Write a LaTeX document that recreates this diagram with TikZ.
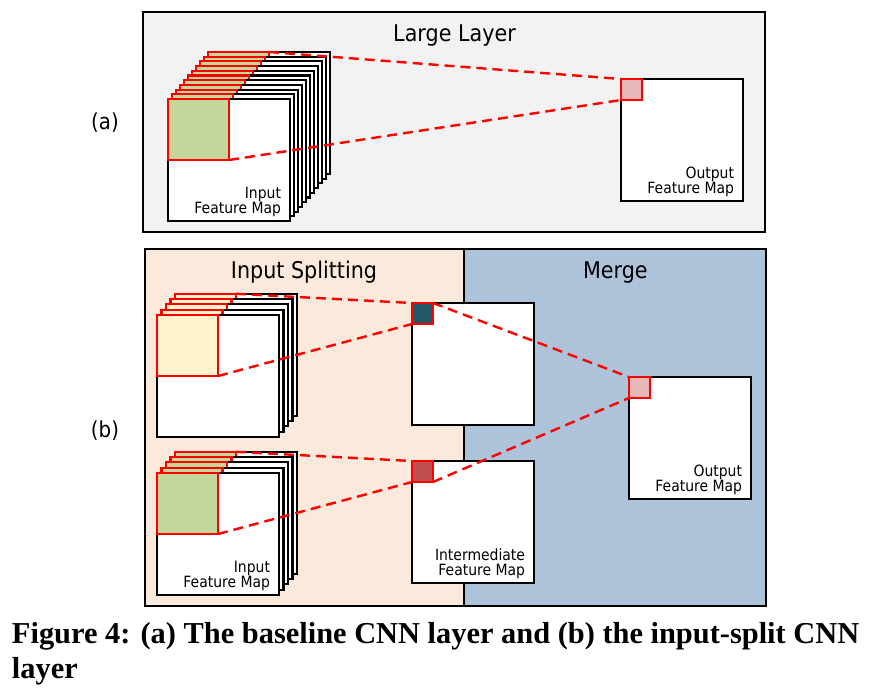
\documentclass[tikz,border=0pt]{standalone}
\usepackage{fontspec}
\setmainfont{DejaVu Sans}[FakeStretch=0.9]
\newfontfamily\capfont{Liberation Serif}
\usepackage{xcolor}
\usetikzlibrary{positioning,calc}

\definecolor{panelgray}{HTML}{F2F2F2}
\definecolor{splitbg}{HTML}{FBE9DB}
\definecolor{mergebg}{HTML}{ADC3DA}
\definecolor{patchgreen}{HTML}{C4D79B}
\definecolor{patchyellow}{HTML}{FFF2CC}
\definecolor{dotteal}{HTML}{215968}
\definecolor{dotred}{HTML}{C0504D}
\definecolor{dotpink}{HTML}{E6B9B8}

\begin{document}
\begin{tikzpicture}[
    x=1pt, y=-1pt,
    every node/.style={inner sep=0pt, outer sep=0pt},
    panel/.style={draw=black, line width=2pt},
    fmap/.style={
      rectangle, draw=black, fill=white, line width=2.1pt,
      minimum width=122pt, minimum height=122pt, anchor=north west
    },
    patch/.style={
      rectangle, draw=red, line width=2.1pt,
      minimum width=61pt, minimum height=61pt, anchor=north west
    },
    dot/.style={
      rectangle, draw=red, line width=2.1pt,
      minimum width=21pt, minimum height=21pt, anchor=north west
    },
    maplabel/.style={font=\fontsize{15.5}{15.5}\selectfont, align=right, anchor=south east},
    title/.style={font=\fontsize{23}{23}\selectfont, anchor=base},
    tag/.style={font=\fontsize{22}{22}\selectfont},
    link/.style={draw=red, line width=2.4pt, dash pattern=on 10pt off 6pt}
  ]
    \useasboundingbox (0,0) rectangle (872,700);

    % Panels
    \draw[panel, fill=panelgray] (143,12) rectangle (765,232);
    \fill[splitbg] (145,249) rectangle (464,606);
    \fill[mergebg] (464,249) rectangle (766,606);
    \draw[panel] (145,249) rectangle (766,606);
    \draw[panel] (464,249) -- (464,606);

    \node[title] (ttl-large) at (454.5,41.7) {Large Layer};
    \node[title] (ttl-split) at (304,278.3) {Input Splitting};
    \node[title] (ttl-merge) at (615.3,278.3) {Merge};
    \node[tag] (tag-a) at (105,123) {(a)};
    \node[tag] (tag-b) at (105,431) {(b)};

    % (a) input stack
    \foreach \i in {10,...,1} {
      \node[fmap] (alayer\i) at ({168+4*\i},{99-4.7*\i}) {};
      \node[patch, fill=patchgreen] (apatch\i) at (alayer\i.north west) {};
    }
    \node[fmap] (ainput) at (168,99) {};
    \node[patch, fill=patchgreen] (apatch) at (ainput.north west) {};
    \node[maplabel] at ([xshift=-9pt, yshift=4pt]ainput.south east) {Input\\Feature Map};

    % (a) output
    \node[fmap] (aoutput) at (621,79) {};
    \node[dot, fill=dotpink] (adot) at (aoutput.north west) {};
    \node[maplabel] at ([xshift=-9pt, yshift=4pt]aoutput.south east) {Output\\Feature Map};

    % (b) input stacks
    \foreach \i in {4,...,1} {
      \node[fmap] (toplayer\i) at ({157+4.5*\i},{315-5.3*\i}) {};
      \node[patch, fill=patchyellow] (toppatch\i) at (toplayer\i.north west) {};
      \node[fmap] (botlayer\i) at ({157+4.5*\i},{473-5.3*\i}) {};
      \node[patch, fill=patchgreen] (botpatch\i) at (botlayer\i.north west) {};
    }
    \node[fmap] (topinput) at (157,315) {};
    \node[patch, fill=patchyellow] (toppatch) at (topinput.north west) {};
    \node[fmap] (botinput) at (157,473) {};
    \node[patch, fill=patchgreen] (botpatch) at (botinput.north west) {};
    \node[maplabel] at ([xshift=-9pt, yshift=4pt]botinput.south east) {Input\\Feature Map};

    % (b) intermediate maps
    \node[fmap] (midtop) at (412,303) {};
    \node[dot, fill=dotteal] (midtopdot) at (midtop.north west) {};
    \node[fmap] (midbot) at (412,461) {};
    \node[dot, fill=dotred] (midbotdot) at (midbot.north west) {};
    \node[maplabel] at ([xshift=-9pt, yshift=4pt]midbot.south east) {Intermediate\\Feature Map};

    % (b) output
    \node[fmap] (boutput) at (629,377) {};
    \node[dot, fill=dotpink] (bdot) at (boutput.north west) {};
    \node[maplabel] at ([xshift=-9pt, yshift=4pt]boutput.south east) {Output\\Feature Map};

    % Dashed projections
    \draw[link] (apatch10.north east) -- (adot.north west);
    \draw[link] (apatch.south east) -- (adot.south west);
    \draw[link] (toppatch4.north east) -- (midtopdot.north west);
    \draw[link] (toppatch.south east) -- (midtopdot.south west);
    \draw[link] (botpatch4.north east) -- (midbotdot.north west);
    \draw[link] (botpatch.south east) -- (midbotdot.south west);
    \draw[link] (midtopdot.north east) -- (bdot.north west);
    \draw[link] (midbotdot.south east) -- (bdot.south west);

    % Caption
    \node[anchor=base west, align=left, font=\capfont\bfseries\fontsize{30.4}{35}\selectfont] (caption) at (12,678)
      {Figure 4: (a) The baseline CNN layer and (b) the input-split CNN\\layer};
  \end{tikzpicture}
\end{document}
